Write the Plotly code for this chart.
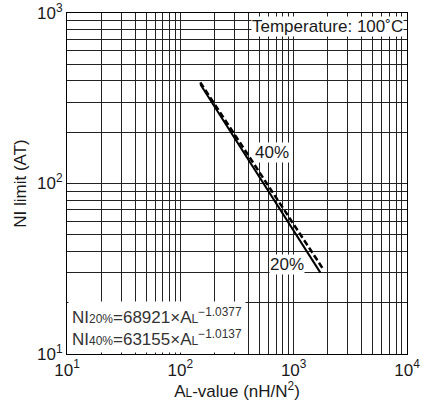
import math
import plotly.graph_objects as go

# Data (straight lines in log-log space)
al_20 = [150, 1720]
ni_20 = [382, 30]
al_40 = [150, 1790]
ni_40 = [392, 32]

x_major = [10, 100, 1000, 10000]
x_major_text = ["10<sup>1</sup>", "10<sup>2</sup>", "10<sup>3</sup>", "10<sup>4</sup>"]
y_major = [10, 100, 1000]
y_major_text = ["10<sup>1</sup>", "10<sup>2</sup>", "10<sup>3</sup>"]

label_40 = (640, 153)
label_20 = (867, 33.5)


def minor_vals(decades):
    return [d * m for d in decades[:-1] for m in range(2, 10)]


FONT = "Liberation Sans"
INK = "#1a1a1a"
FS = 17

fig = go.Figure()
fig.add_trace(go.Scatter(x=al_20, y=ni_20, mode="lines",
                         line=dict(color="black", width=2), showlegend=False))
fig.add_trace(go.Scatter(x=al_40, y=ni_40, mode="lines",
                         line=dict(color="black", width=2.5, dash="6px,3px"), showlegend=False))

common = dict(showgrid=True, gridcolor="#222", gridwidth=1,
              showline=True, linecolor="black", linewidth=1.2, mirror=True,
              ticks="", zeroline=False, automargin=False,
              tickfont=dict(size=FS, color=INK, family=FONT))

fig.update_xaxes(type="log", range=[1, 4], tickmode="array",
                 tickvals=x_major, ticktext=x_major_text,
                 minor=dict(tickmode="array", tickvals=minor_vals(x_major),
                            showgrid=True, gridcolor="#222", gridwidth=1, ticks=""),
                 title=dict(text="A<span style='font-size:12px'>L</span>-value (nH/N<sup>2</sup>)",
                            font=dict(size=FS, color=INK, family=FONT), standoff=4),
                 **common)
fig.update_yaxes(type="log", range=[1, 3], tickmode="array",
                 tickvals=y_major, ticktext=y_major_text,
                 minor=dict(tickmode="array", tickvals=minor_vals(y_major),
                            showgrid=True, gridcolor="#222", gridwidth=1, ticks=""),
                 title=dict(text="NI limit (AT)", font=dict(size=FS, color=INK, family=FONT),
                            standoff=6),
                 **common)

fig.add_annotation(x=1, y=1, xref="paper", yref="paper", xanchor="right", yanchor="top",
                   text="Temperature: 100˚C", showarrow=False, bgcolor="white",
                   font=dict(size=FS, color=INK, family=FONT), xshift=-3, yshift=-3, borderpad=0)
fig.add_annotation(x=math.log10(label_40[0]), y=math.log10(label_40[1]), xref="x", yref="y",
                   text="40%", showarrow=False, bgcolor="white",
                   font=dict(size=FS, color=INK, family=FONT), borderpad=0)
fig.add_annotation(x=math.log10(label_20[0]), y=math.log10(label_20[1]), xref="x", yref="y",
                   text="20%", showarrow=False, bgcolor="white",
                   font=dict(size=FS, color=INK, family=FONT), borderpad=0)
fig.add_annotation(x=0, y=0, xref="paper", yref="paper", xanchor="left", yanchor="bottom",
                   align="left", showarrow=False, bgcolor="white",
                   text=("NI<span style='font-size:12px'>20%</span>=68921×A<span style='font-size:12px'>L</span><sup>−1.0377</sup><br>"
                         "NI<span style='font-size:12px'>40%</span>=63155×A<span style='font-size:12px'>L</span><sup>−1.0137</sup>"),
                   font=dict(size=FS, color="#333", family=FONT), xshift=1, yshift=1, borderpad=3)

fig.update_layout(width=422, height=401, margin=dict(l=67, r=15, t=13, b=47),
                  plot_bgcolor="white", paper_bgcolor="white")

fig.write_html("out.html", config={"displayModeBar": False},
               post_script="document.body.style.margin='0';document.body.style.overflow='hidden';")
